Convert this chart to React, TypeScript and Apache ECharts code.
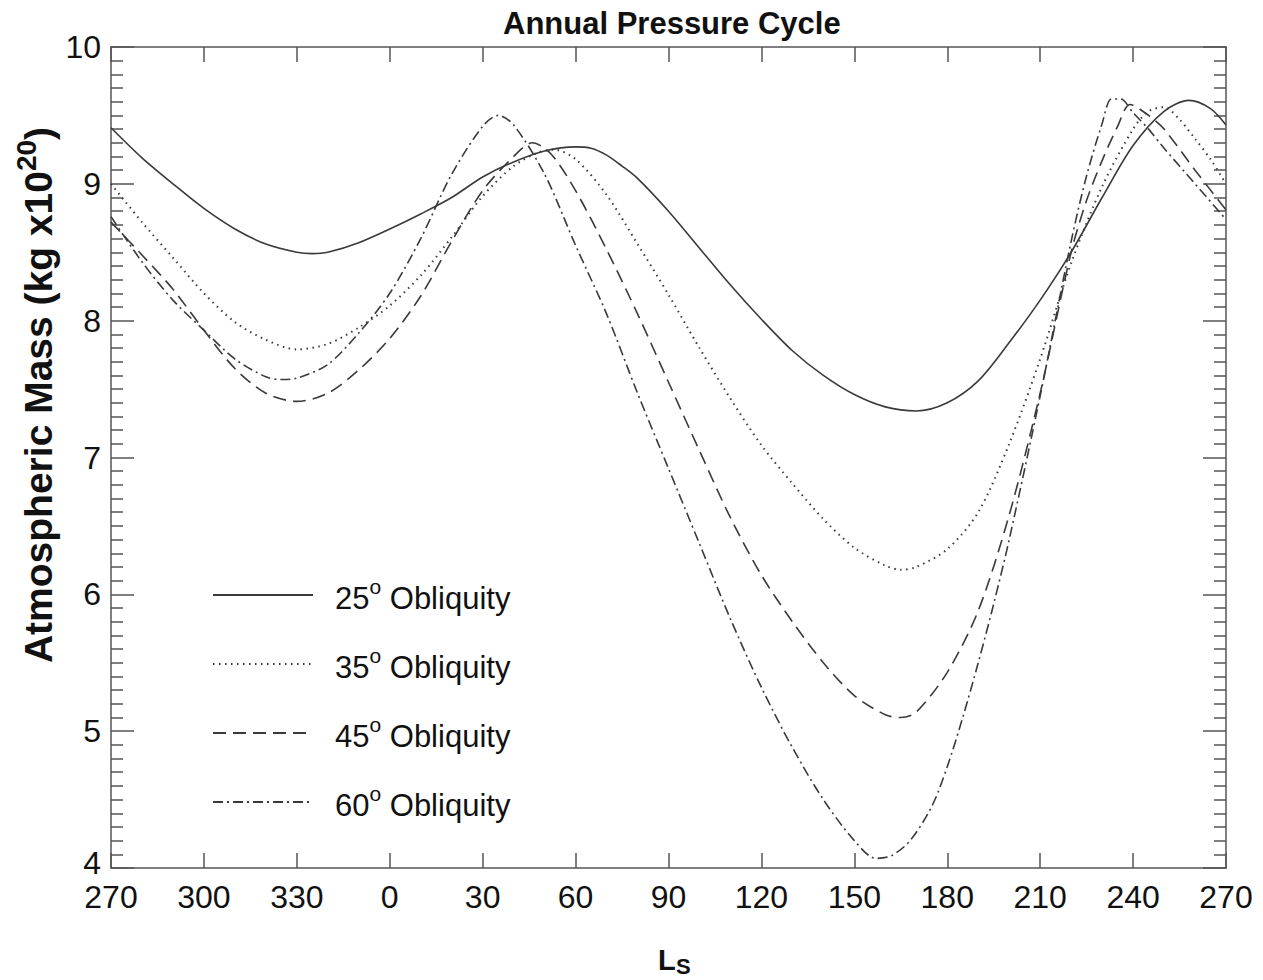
import React, { useEffect, useRef } from "react";
import * as echarts from "echarts";

const FONT = "'Liberation Sans', Arial, Helvetica, sans-serif";

// x = degrees of solar longitude elapsed since Ls 270 (axis runs 270 -> 270)
const TICK_LABELS = [270, 300, 330, 0, 30, 60, 90, 120, 150, 180, 210, 240, 270];

const OBLIQUITIES = ["25", "35", "45", "60"];

const OBL25: [number, number][] = [
  [0, 9.41], [10, 9.19], [20, 9.0], [30, 8.82], [40, 8.67], [50, 8.56], [60, 8.5], [65, 8.49],
  [70, 8.5], [80, 8.57], [90, 8.67], [100, 8.78], [110, 8.9], [120, 9.05], [130, 9.16], [140, 9.24],
  [150, 9.27], [155, 9.26], [160, 9.21], [165, 9.13], [170, 9.04], [180, 8.8], [190, 8.53], [200, 8.26],
  [210, 8.01], [220, 7.78], [230, 7.6], [240, 7.46], [250, 7.37], [260, 7.34], [270, 7.4], [280, 7.56],
  [290, 7.84], [300, 8.15], [310, 8.5], [320, 8.9], [330, 9.28], [340, 9.53], [348, 9.61], [355, 9.55],
  [360, 9.43],
];

const OBL35: [number, number][] = [
  [0, 9.0], [10, 8.72], [20, 8.46], [30, 8.2], [40, 7.99], [50, 7.86], [60, 7.79], [70, 7.83],
  [80, 7.95], [90, 8.11], [100, 8.33], [110, 8.61], [120, 8.91], [130, 9.13], [138, 9.23], [143, 9.25],
  [150, 9.18], [160, 8.92], [170, 8.56], [180, 8.19], [190, 7.8], [200, 7.43], [210, 7.09], [220, 6.81],
  [230, 6.55], [240, 6.34], [250, 6.21], [255, 6.18], [260, 6.2], [270, 6.33], [280, 6.6], [290, 7.1],
  [300, 7.72], [310, 8.42], [320, 8.98], [330, 9.4], [335, 9.53], [340, 9.56], [345, 9.47], [350, 9.33],
  [355, 9.18], [360, 9.0],
];

const OBL45: [number, number][] = [
  [0, 8.72], [10, 8.48], [20, 8.23], [30, 7.93], [40, 7.65], [50, 7.47], [60, 7.41], [70, 7.47],
  [80, 7.64], [90, 7.87], [100, 8.18], [110, 8.58], [120, 8.95], [130, 9.2], [136, 9.3], [142, 9.22],
  [150, 8.95], [160, 8.52], [170, 8.05], [180, 7.55], [190, 7.05], [200, 6.56], [210, 6.14], [220, 5.8],
  [230, 5.5], [240, 5.26], [250, 5.12], [255, 5.1], [260, 5.14], [270, 5.43], [280, 5.88], [290, 6.58],
  [300, 7.47], [310, 8.5], [315, 8.88], [320, 9.17], [325, 9.42], [329, 9.58], [335, 9.5], [340, 9.4],
  [350, 9.1], [360, 8.81],
];

const OBL60: [number, number][] = [
  [0, 8.76], [10, 8.43], [20, 8.15], [30, 7.93], [40, 7.72], [50, 7.59], [55, 7.57], [60, 7.58],
  [70, 7.68], [80, 7.91], [90, 8.2], [100, 8.6], [110, 9.07], [120, 9.42], [125, 9.5], [130, 9.43],
  [140, 9.07], [150, 8.55], [160, 8.05], [170, 7.47], [180, 6.92], [190, 6.37], [200, 5.82], [210, 5.32],
  [220, 4.88], [230, 4.5], [240, 4.2], [247, 4.07], [252, 4.09], [258, 4.2], [265, 4.45], [270, 4.74],
  [275, 5.1], [280, 5.5], [285, 5.93], [290, 6.4], [300, 7.45], [310, 8.58], [315, 9.06], [320, 9.44],
  [323, 9.62], [326, 9.62], [330, 9.52], [335, 9.4], [340, 9.26], [350, 9.0], [360, 8.74],
];

const SERIES_DATA = [OBL25, OBL35, OBL45, OBL60];
const LINE_TYPES: any[] = ["solid", [1.5, 4.5], [13, 7], [10, 4, 2, 4]];
const LINE_WIDTHS = [1.6, 2, 1.6, 1.6];

const AXIS_COLOR = "#555";
const TEXT_COLOR = "#111";
const LINE_COLOR = "#3a3a3a";

export default function App() {
  const ref = useRef<HTMLDivElement>(null);

  useEffect(() => {
    if (!ref.current) return;
    const chart = echarts.init(ref.current, null, { renderer: "svg" });

    const axisLine = { show: true, onZero: false, lineStyle: { color: AXIS_COLOR, width: 1.5 } };
    const tickStyle = { color: AXIS_COLOR, width: 1.5 };

    const xCommon = {
      type: "value",
      min: 0,
      max: 360,
      interval: 30,
      axisLine,
      splitLine: { show: false },
    };
    const yCommon = {
      type: "value",
      min: 4,
      max: 10,
      interval: 1,
      axisLine,
      axisTick: { show: true, inside: true, length: 23, lineStyle: tickStyle },
      minorTick: { show: true, splitNumber: 10, length: 12, lineStyle: tickStyle },
      splitLine: { show: false },
      minorSplitLine: { show: false },
    };

    const option: any = {
      animation: false,
      backgroundColor: "#ffffff",
      textStyle: { fontFamily: FONT },
      grid: { left: 111, right: 37, top: 47, bottom: 112, containLabel: false },
      title: {
        text: "Annual Pressure Cycle",
        left: 503,
        top: 8,
        padding: 0,
        textStyle: { fontFamily: FONT, fontSize: 31, fontWeight: "bold", color: TEXT_COLOR },
      },
      xAxis: [
        {
          ...xCommon,
          position: "bottom",
          axisTick: { show: true, inside: true, length: 15, lineStyle: tickStyle },
          axisLabel: {
            show: true,
            fontFamily: FONT,
            fontSize: 32,
            lineHeight: 24,
            color: TEXT_COLOR,
            margin: 17,
            formatter: (v: number) => String(TICK_LABELS[Math.round(v / 30)]),
          },
        },
        {
          ...xCommon,
          position: "top",
          axisTick: { show: true, inside: true, length: 15, lineStyle: tickStyle },
          axisLabel: { show: false },
        },
      ],
      yAxis: [
        {
          ...yCommon,
          position: "left",
          axisLabel: {
            show: true,
            fontFamily: FONT,
            fontSize: 32,
            lineHeight: 24,
            color: TEXT_COLOR,
            margin: 10,
            formatter: (v: number) => (v === 4 ? `{low|${v}}` : `${v}`),
            rich: {
              low: { fontFamily: FONT, fontSize: 32, lineHeight: 24, color: TEXT_COLOR, padding: [0, 0, 10, 0] },
            },
          },
        },
        {
          ...yCommon,
          position: "right",
          axisLabel: { show: false },
        },
      ],
      legend: {
        orient: "vertical",
        left: 212,
        top: 576,
        padding: 0,
        itemWidth: 100,
        itemHeight: 14,
        itemGap: 31,
        selectedMode: false,
        itemStyle: { opacity: 0 },
        data: OBLIQUITIES,
        formatter: (name: string) => `{n|${name}}{sup|o}{t| Obliquity}`,
        textStyle: {
          fontFamily: FONT,
          color: TEXT_COLOR,
          rich: {
            n: { fontFamily: FONT, fontSize: 31, lineHeight: 38, verticalAlign: "bottom", color: TEXT_COLOR, padding: [0, 0, 0, 17] },
            sup: { fontFamily: FONT, fontSize: 21, lineHeight: 20, verticalAlign: "top", color: TEXT_COLOR },
            t: { fontFamily: FONT, fontSize: 31, lineHeight: 38, verticalAlign: "bottom", color: TEXT_COLOR },
          },
        },
      },
      graphic: [
        {
          type: "text",
          x: 35,
          y: 395,
          rotation: Math.PI / 2,
          style: {
            text: "{a|Atmospheric Mass (kg x10}{s|20}{a|)}",
            align: "center",
            verticalAlign: "middle",
            rich: {
              a: { fontFamily: FONT, fontSize: 39, fontWeight: "bold", lineHeight: 46, verticalAlign: "bottom", fill: TEXT_COLOR },
              s: { fontFamily: FONT, fontSize: 28, fontWeight: "bold", lineHeight: 28, verticalAlign: "top", fill: TEXT_COLOR },
            },
          },
        },
        {
          type: "text",
          x: 658,
          y: 960,
          style: { text: "L", fontFamily: FONT, fontSize: 29, fontWeight: "bold", fill: TEXT_COLOR, align: "left", verticalAlign: "middle" },
        },
        {
          type: "text",
          x: 676,
          y: 966,
          style: { text: "S", fontFamily: FONT, fontSize: 22, fontWeight: "bold", fill: TEXT_COLOR, align: "left", verticalAlign: "middle" },
        },
      ],
      series: OBLIQUITIES.map((name, i) => ({
        name,
        type: "line",
        xAxisIndex: 0,
        yAxisIndex: 0,
        data: SERIES_DATA[i],
        symbol: "none",
        showSymbol: false,
        smooth: 0.3,
        lineStyle: { color: LINE_COLOR, width: LINE_WIDTHS[i], type: LINE_TYPES[i] },
        itemStyle: { color: LINE_COLOR },
        emphasis: { disabled: true },
        z: 2,
      })),
    };

    chart.setOption(option);
    return () => chart.dispose();
  }, []);

  return (
    <div
      ref={ref}
      style={{ position: "absolute", left: 0, top: 0, width: 1263, height: 980, background: "#fff" }}
    />
  );
}
